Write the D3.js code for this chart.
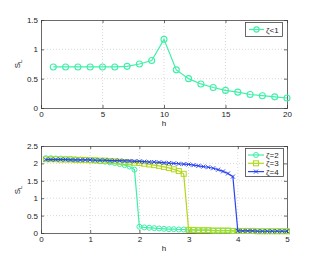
<!DOCTYPE html>
<html><head><meta charset="utf-8">
<script src="https://cdn.jsdelivr.net/npm/d3@7"></script>
<style>
body{margin:0;background:#fff;}
text{font-family:"Liberation Sans",Arial,sans-serif;font-size:8px;fill:#222;}
</style></head>
<body><svg id="c" width="316" height="265"></svg>
<script>
// Top panel
const topH = [1,2,3,4,5,6,7,8,9,10,11,12,13,14,15,16,17,18,19,20];
const topS = [0.70,0.70,0.70,0.70,0.70,0.70,0.71,0.75,0.81,1.17,0.65,0.50,0.41,0.35,0.30,0.27,0.23,0.21,0.19,0.17];
const topXTicks = [0,5,10,15,20];
const topYTicks = [0,0.5,1,1.5];

// Bottom panel: h = 0.1 ... 5.0
const botH = [0.1,0.2,0.3,0.4,0.5,0.6,0.7,0.8,0.9,1.0,1.1,1.2,1.3,1.4,1.5,1.6,1.7,1.8,1.9,2.0,
  2.1,2.2,2.3,2.4,2.5,2.6,2.7,2.8,2.9,3.0,3.1,3.2,3.3,3.4,3.5,3.6,3.7,3.8,3.9,4.0,
  4.1,4.2,4.3,4.4,4.5,4.6,4.7,4.8,4.9,5.0];
const zeta2 = [2.15,2.15,2.14,2.14,2.13,2.13,2.12,2.11,2.10,2.09,2.08,2.06,2.05,2.03,2.01,1.98,1.95,1.91,1.82,
  0.18,0.16,0.15,0.14,0.13,0.12,0.11,0.11,0.10,0.10,0.09,0.09,0.08,0.08,0.08,0.07,0.07,0.07,0.07,0.06,0.06,
  0.06,0.06,0.06,0.05,0.05,0.05,0.05,0.05,0.05,0.05];
const zeta3 = [2.12,2.12,2.12,2.11,2.11,2.11,2.10,2.10,2.10,2.09,2.09,2.08,2.08,2.07,2.06,2.05,2.04,2.03,2.02,2.01,
  1.99,1.97,1.95,1.93,1.90,1.87,1.83,1.78,1.70,
  0.09,0.09,0.08,0.08,0.08,0.07,0.07,0.07,0.07,0.06,0.06,0.06,0.06,0.06,0.05,0.05,0.05,0.05,0.05,0.05,0.05];
const zeta4 = [2.11,2.11,2.11,2.11,2.11,2.10,2.10,2.10,2.10,2.10,2.09,2.09,2.09,2.08,2.08,2.08,2.07,2.07,2.06,2.06,
  2.05,2.04,2.04,2.03,2.02,2.01,2.00,1.99,1.98,1.97,1.95,1.93,1.91,1.89,1.86,1.82,1.77,1.71,1.62,
  0.06,0.06,0.06,0.06,0.05,0.05,0.05,0.05,0.05,0.05,0.05];
const botXTicks = [0,1,2,3,4,5];
const botYTicks = [0,0.5,1,1.5,2,2.5];

const cGreen = "#3ff0a8", cYellow = "#b2d81a", cBlue = "#2a44f0";

const svg = d3.select("#c");

function panel(top, bottom, xDom, yDom, xt, yt, yFmt) {
  const L = 41, R = 287;
  const x = d3.scaleLinear().domain(xDom).range([L, R]);
  const y = d3.scaleLinear().domain(yDom).range([bottom, top]);
  const g = svg.append("g");
  g.append("rect").attr("x", L).attr("y", top).attr("width", R - L).attr("height", bottom - top).attr("fill", "#fff");
  // grid
  g.selectAll(".gx").data(xt.slice(1, -1)).join("line")
    .attr("x1", d => x(d)).attr("x2", d => x(d)).attr("y1", top).attr("y2", bottom)
    .attr("stroke", "#c8c8c8").attr("stroke-width", 0.7).attr("stroke-dasharray", "1,2");
  g.selectAll(".gy").data(yt.slice(1, -1)).join("line")
    .attr("y1", d => y(d)).attr("y2", d => y(d)).attr("x1", L).attr("x2", R)
    .attr("stroke", "#c8c8c8").attr("stroke-width", 0.7).attr("stroke-dasharray", "1,2");
  // axes
  const ax = g.append("g").attr("transform", `translate(0,${bottom})`)
    .call(d3.axisBottom(x).tickValues(xt).tickSize(-3).tickPadding(3).tickFormat(d3.format("")));
  const ay = g.append("g").attr("transform", `translate(${L},0)`)
    .call(d3.axisLeft(y).tickValues(yt).tickSize(-3).tickPadding(3).tickFormat(yFmt));
  const axT = g.append("g").attr("transform", `translate(0,${top})`)
    .call(d3.axisTop(x).tickValues(xt).tickSize(-3).tickFormat(""));
  const ayR = g.append("g").attr("transform", `translate(${R},0)`)
    .call(d3.axisRight(y).tickValues(yt).tickSize(-3).tickFormat(""));
  [ax, ay, axT, ayR].forEach(a => {
    a.select(".domain").attr("stroke", "#444").attr("stroke-width", 0.8);
    a.selectAll(".tick line").attr("stroke", "#444").attr("stroke-width", 0.8);
    a.selectAll("text").attr("font-family", "Liberation Sans, Arial, sans-serif").attr("font-size", 8).attr("fill", "#222");
  });
  return {x, y, g};
}

// ---------- top ----------
const p1 = panel(20, 108, [0, 20], [0, 1.5], topXTicks, topYTicks, d3.format(""));
p1.g.append("path").datum(topH.map((h, i) => [h, topS[i]]))
  .attr("d", d3.line().x(d => p1.x(d[0])).y(d => p1.y(d[1])))
  .attr("fill", "none").attr("stroke", cGreen).attr("stroke-width", 1.2);
p1.g.selectAll(".m").data(topH.map((h, i) => [h, topS[i]])).join("circle")
  .attr("cx", d => p1.x(d[0])).attr("cy", d => p1.y(d[1])).attr("r", 3)
  .attr("fill", "none").attr("stroke", cGreen).attr("stroke-width", 1.1);
svg.append("text").attr("x", 164).attr("y", 126).attr("text-anchor", "middle").text("h");
svg.append("text").attr("transform", "translate(20,64) rotate(-90)").attr("text-anchor", "middle").html('S<tspan dy="2" font-size="6">L</tspan>');

// legend top
const lg1 = svg.append("g");
lg1.append("rect").attr("x", 245.5).attr("y", 22.5).attr("width", 37).attr("height", 14)
  .attr("fill", "#fff").attr("stroke", "#444").attr("stroke-width", 0.8);
lg1.append("line").attr("x1", 249).attr("x2", 264).attr("y1", 29.5).attr("y2", 29.5).attr("stroke", cGreen).attr("stroke-width", 1.2);
lg1.append("circle").attr("cx", 256.5).attr("cy", 29.5).attr("r", 2.6).attr("fill", "none").attr("stroke", cGreen).attr("stroke-width", 1.1);
lg1.append("text").attr("x", 266).attr("y", 32.5).text("ζ<1");

// ---------- bottom ----------
const p2 = panel(146, 233, [0, 5], [0, 2.5], botXTicks, botYTicks, d3.format(""));
const series = [
  {name: "ζ=2", vals: zeta2, color: cGreen, m: "circle"},
  {name: "ζ=3", vals: zeta3, color: cYellow, m: "square"},
  {name: "ζ=4", vals: zeta4, color: cBlue, m: "cross"}
];
function marker(g, m, color, cx, cy) {
  if (m === "circle") g.append("circle").attr("cx", cx).attr("cy", cy).attr("r", 2.5).attr("fill", "none").attr("stroke", color).attr("stroke-width", 1);
  else if (m === "square") g.append("rect").attr("x", cx - 2.5).attr("y", cy - 2.5).attr("width", 5).attr("height", 5).attr("fill", "none").attr("stroke", color).attr("stroke-width", 1);
  else g.append("path").attr("d", `M${cx-2},${cy-2}L${cx+2},${cy+2}M${cx-2},${cy+2}L${cx+2},${cy-2}`).attr("stroke", color).attr("stroke-width", 1);
}
series.forEach(s => {
  const pts = botH.map((h, i) => [h, s.vals[i]]);
  p2.g.append("path").datum(pts)
    .attr("d", d3.line().x(d => p2.x(d[0])).y(d => p2.y(d[1])))
    .attr("fill", "none").attr("stroke", s.color).attr("stroke-width", 1.2);
  const mg = p2.g.append("g");
  pts.forEach(d => marker(mg, s.m, s.color, p2.x(d[0]), p2.y(d[1])));
});
svg.append("text").attr("x", 164).attr("y", 251).attr("text-anchor", "middle").text("h");
svg.append("text").attr("transform", "translate(20,190) rotate(-90)").attr("text-anchor", "middle").html('S<tspan dy="2" font-size="6">L</tspan>');

// legend bottom
const lg2 = svg.append("g");
lg2.append("rect").attr("x", 245.5).attr("y", 148.5).attr("width", 38).attr("height", 28)
  .attr("fill", "#fff").attr("stroke", "#444").attr("stroke-width", 0.8);
series.forEach((s, i) => {
  const yy = 155 + i * 8.3;
  lg2.append("line").attr("x1", 248).attr("x2", 264).attr("y1", yy).attr("y2", yy).attr("stroke", s.color).attr("stroke-width", 1.2);
  marker(lg2, s.m, s.color, 256, yy);
  lg2.append("text").attr("x", 266).attr("y", yy + 3).text(s.name);
});
</script></body></html>
